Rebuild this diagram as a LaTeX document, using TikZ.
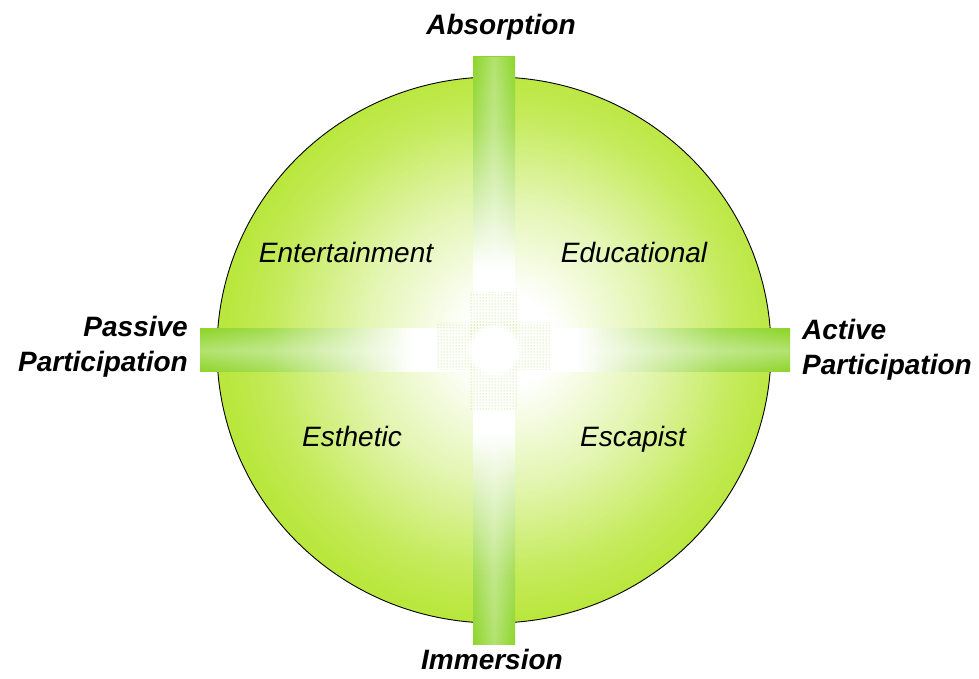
\documentclass[tikz,border=0pt]{standalone}
\usepackage{fontspec}
\setmainfont{Liberation Sans}
\usetikzlibrary{patterns,fadings}
\definecolor{korzold}{RGB}{186,231,62}
\definecolor{rudzold}{RGB}{142,213,42}
\pgfdeclareradialshading{korfolt}{\pgfpoint{1.5bp}{1bp}}{color(0bp)=(white); color(4bp)=(white);
  color(13bp)=(korzold!40!white); color(21bp)=(korzold!85!white); color(25bp)=(korzold); color(50bp)=(korzold)}
\pgfdeclarehorizontalshading{vizrud}{100bp}{color(0bp)=(rudzold); color(25bp)=(rudzold);
  color(31bp)=(rudzold!80!white); color(43bp)=(white); color(57bp)=(white);
  color(69bp)=(rudzold!80!white); color(75bp)=(rudzold); color(100bp)=(rudzold)}
\pgfdeclareverticalshading{fuggrud}{100bp}{color(0bp)=(rudzold); color(25bp)=(rudzold);
  color(31bp)=(rudzold!80!white); color(43bp)=(white); color(57bp)=(white);
  color(69bp)=(rudzold!80!white); color(75bp)=(rudzold); color(100bp)=(rudzold)}
\tikzfading[name=csikv,top color=transparent!100,bottom color=transparent!100,middle color=transparent!35]
\tikzfading[name=csikf,left color=transparent!100,right color=transparent!100,middle color=transparent!35]
\tikzset{
  tengely/.style={inner sep=0pt,font=\fontsize{28}{35}\selectfont\bfseries\itshape},
  negyed/.style={inner sep=0pt,font=\fontsize{28}{34}\selectfont\itshape},
  rud/.style={draw=none},
  pottyok/.style={pattern=dots,pattern color=rudzold!80!white},
}

\begin{document}
\begin{tikzpicture}[x=1pt,y=1pt]
  \useasboundingbox[fill=white] (0,0) rectangle (979,679);
  % the disc
  \shade[shading=korfolt] (494,329) ellipse [x radius=277,y radius=273];
  \draw[line width=0.9pt] (494,329) ellipse [x radius=277,y radius=273];
  % the two bars
  \shade[rud,shading=vizrud] (200,307) rectangle (790,350);
  \fill[white,fill opacity=0.5,path fading=csikv] (200,307) rectangle (790,350);
  \shade[rud,shading=fuggrud] (473,34) rectangle (515,622);
  \fill[white,fill opacity=0.5,path fading=csikf] (473,34) rectangle (515,622);
  % halftone in the middle
  \fill[pottyok] (436,309) rectangle (550,356);
  \fill[pottyok] (470,269) rectangle (518,386);
  \fill[white,path fading=circle with fuzzy edge 20 percent] (494,329) circle (28);
  % axis labels
  \node[tengely,anchor=base] (abs) at (501,644) {Absorption};
  \node[tengely,anchor=base] (imm) at (492,9) {Immersion};
  \node[tengely,anchor=base east,align=right] (pas) at (188,307) {Passive\\Participation};
  \node[tengely,anchor=base west,align=left] (act) at (802,304) {Active\\Participation};
  % quadrants
  \node[negyed,anchor=base] (ent) at (346,416) {Entertainment};
  \node[negyed,anchor=base] (edu) at (634,416) {Educational};
  \node[negyed,anchor=base] (est) at (352,232) {Esthetic};
  \node[negyed,anchor=base] (esc) at (633,232) {Escapist};
\end{tikzpicture}
\end{document}
